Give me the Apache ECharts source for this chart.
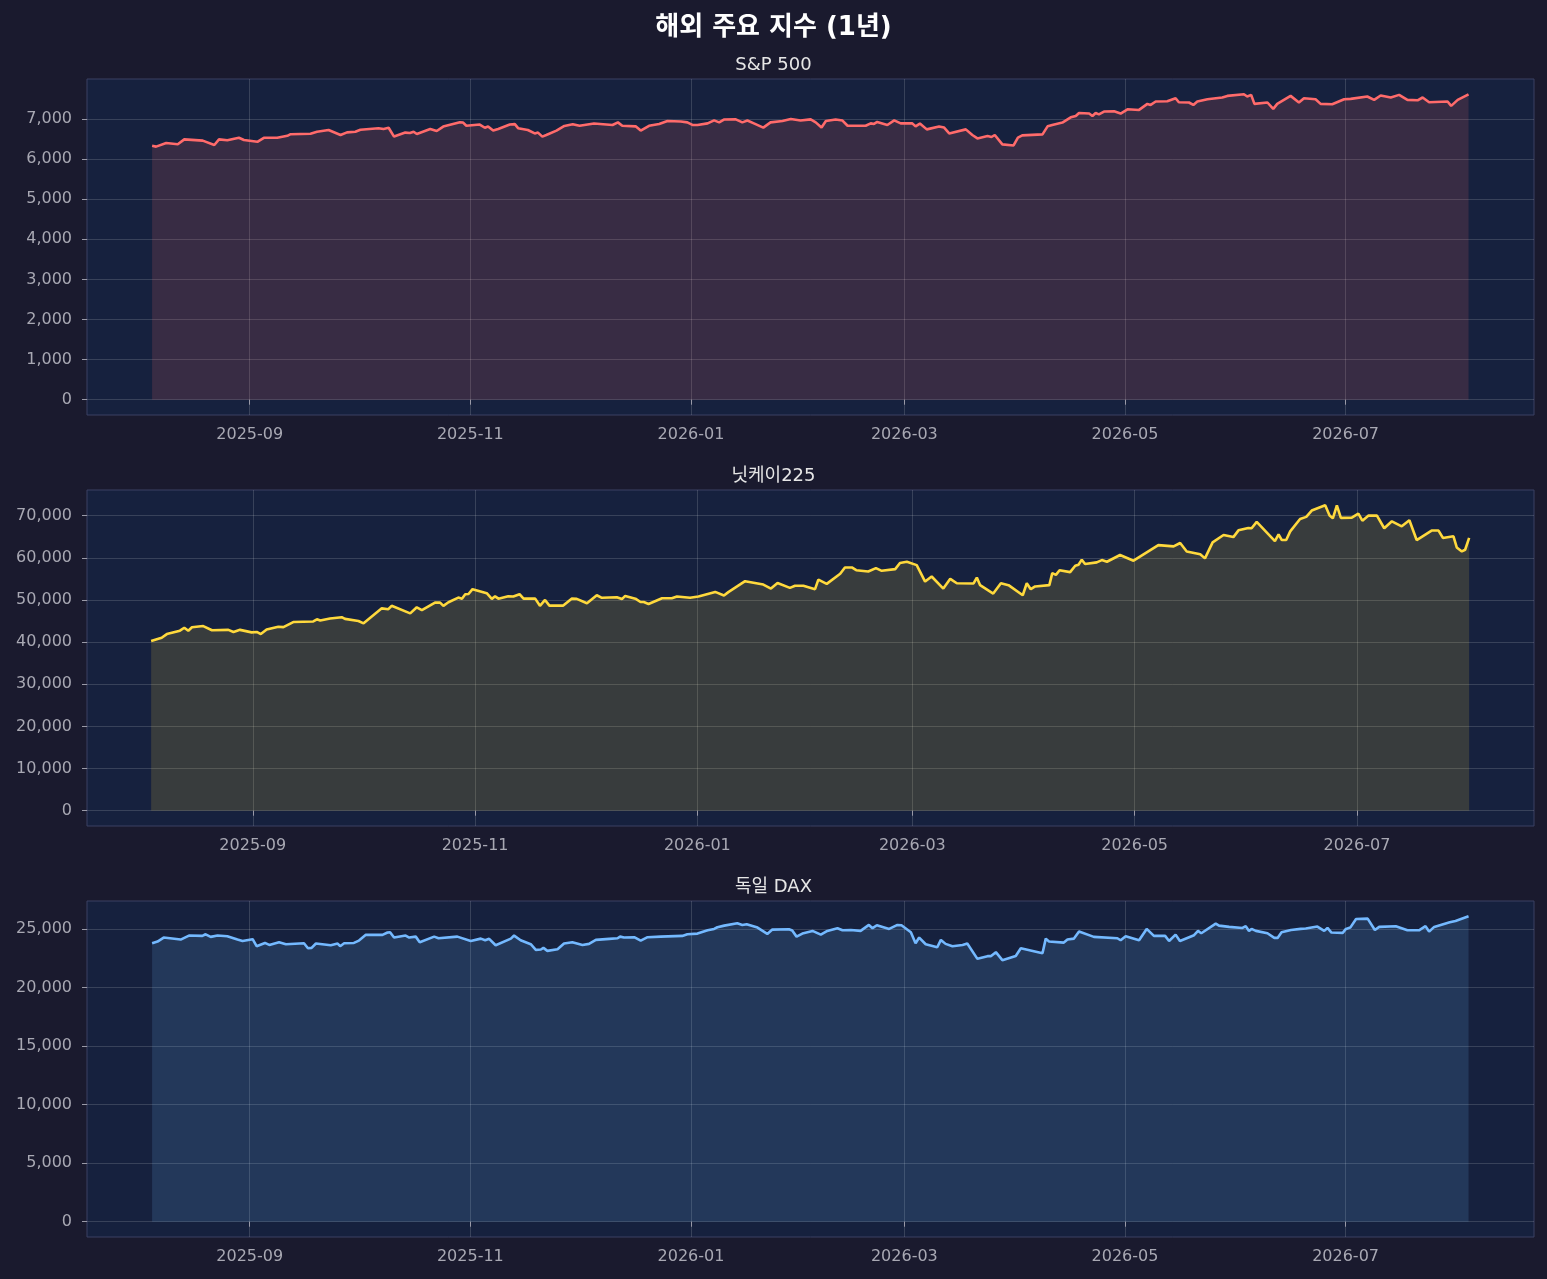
<!DOCTYPE html>
<html>
<head>
<meta charset="utf-8">
<script src="https://cdn.jsdelivr.net/npm/echarts@6/dist/echarts.min.js"></script>
<style>
html,body{margin:0;padding:0;background:#1a1a2e;}
#chart{width:1547px;height:1279px;}
</style>
</head>
<body>
<div id="chart"></div>
<script>
// Day offsets are counted from 2025-08-05
const START_DATE = '2025-08-05';

const spDays = [0,1.1,3.9,7.1,8.9,14,17.2,18.5,20.8,24,25.4,29.1,30.9,34.6,37.4,38.3,43.8,45.6,48.8,52.1,53.9,56.2,57.6,62.6,64,65.4,65.8,66.9,70,71.3,72.3,73.2,76.9,78.7,80.5,85.1,86,86.9,90.6,92,92.9,94.3,95.7,98.9,100.3,101.2,103.9,105.8,106.7,107.9,109,111.8,114,116.3,118.2,122.2,127.3,128.8,130,133.7,135.1,137.4,140.2,142.5,146.2,148,149.4,150.8,153.6,155.4,156.8,158.1,161.4,163.2,164.6,166.4,169,171,174.3,176.6,179.3,182.1,183.5,185.1,186.3,189,190.9,192.3,197.3,198.7,199.6,200.5,203.3,205.2,207,210.2,211.1,212.3,214.2,217.6,219,220.4,225,226.8,228.2,231,232.1,233,235.1,238.2,239.4,240.6,246.2,247.6,248.9,251.7,254,255.4,256.3,259.1,260,260.9,261.8,263.2,266,267.8,269.7,272.9,275.2,276.1,277.5,280.7,283,283.9,286.7,287.9,289,291.8,295.9,297.3,301.9,302.8,303.9,304.8,308.4,310,311.1,314.8,317.1,318.5,321.7,323.1,326.3,329.6,331.4,336,337.9,339.7,342.5,344.8,347.1,349.9,351.3,353.1,358.2,359.2,361,364];
const spValues = [6330,6310,6400,6370,6490,6460,6350,6490,6470,6530,6475,6430,6530,6530,6580,6620,6630,6680,6725,6600,6665,6680,6730,6770,6750,6780,6740,6560,6660,6650,6680,6625,6750,6700,6810,6915,6910,6830,6860,6780,6810,6710,6750,6860,6870,6770,6725,6640,6660,6560,6600,6710,6825,6870,6830,6885,6850,6915,6830,6815,6710,6830,6875,6950,6935,6915,6850,6850,6890,6965,6915,6985,6990,6915,6960,6890,6785,6915,6950,7000,6960,6990,6915,6785,6950,6985,6960,6830,6830,6890,6875,6925,6850,6965,6890,6890,6815,6885,6740,6810,6785,6640,6740,6600,6515,6575,6550,6600,6365,6340,6535,6590,6615,6815,6850,6910,7040,7075,7150,7135,7075,7150,7115,7185,7190,7135,7240,7225,7375,7350,7435,7440,7515,7415,7410,7350,7435,7490,7535,7575,7615,7560,7600,7375,7410,7250,7375,7575,7410,7515,7490,7375,7365,7490,7500,7560,7475,7585,7535,7600,7475,7465,7535,7415,7435,7325,7475,7615];

const nkDays = [-0.9,2,3.4,7,8.2,9.3,10.3,13.4,15.8,20.3,21.7,23.5,26.7,28.1,29.2,30.8,34,35.4,38.1,43.6,44.6,45.5,48.2,51.4,52.3,56,57.4,62.4,64.2,65.1,70.2,72,73.4,77,78.4,79.3,80.7,83.4,84.4,85.3,86.2,87.3,91.2,92.6,93.5,94.4,97.1,98.5,100.2,101.3,104.5,105.8,107.2,108.4,112.2,114.5,115.9,118.7,121.4,122.8,126.9,128.3,129.2,132,133.4,134.3,135.6,139.3,142,143.4,147,149.3,153.9,156.3,157.5,162.1,167.1,169.2,171,174.4,175.8,178.1,181.3,182.2,184.5,188.2,189.5,191.4,192.6,195.9,198,199.6,203.3,204.6,206.5,209.2,211.5,213.3,216.5,218.4,220.2,224.8,225.7,226.6,230.2,232.3,234.4,238.3,239.4,240.5,241.7,245.6,246.4,247.4,248.4,251.3,252.7,253.6,254.5,255.4,258.6,260,261.4,265,268.7,275.5,279.7,281.5,283.3,287,288.3,290.4,293.4,296.1,297.5,300.2,301.1,302.5,307.5,308.5,309.4,310.6,311.7,314.4,316.1,317.6,321.3,322.5,323.4,324.5,325.6,328.6,330.4,331.5,333.2,335.5,337.5,339.6,342.3,344.4,346.4,350.5,352.4,353.6,356.5,357.4,358.8,359.7,360.8];
const nkValues = [40240,41030,41900,42700,43400,42700,43500,43800,42800,42900,42400,42900,42300,42400,41900,43000,43650,43550,44750,44900,45400,45100,45600,45900,45500,45000,44450,48000,47800,48600,46800,48250,47600,49350,49350,48600,49450,50550,50300,51350,51400,52550,51600,50250,50850,50300,50850,50800,51350,50300,50300,48600,50000,48650,48650,50300,50250,49200,51100,50500,50650,50200,50950,50300,49500,49500,49050,50400,50400,50800,50500,50800,51900,51050,51850,54450,53650,52700,54000,52850,53350,53350,52550,54800,53800,56200,57700,57700,57050,56750,57550,56900,57300,58750,59050,58250,54350,55550,52700,55000,53950,53900,55300,53500,51500,53950,53500,51100,53950,52550,53200,53500,56350,55950,57050,56600,58100,58350,59550,58500,58900,59450,59050,60650,59300,63000,62700,63500,61500,60850,59850,63650,65400,64900,66500,67050,67000,68500,63950,65550,64200,64200,66250,69200,69700,71200,72450,70000,69350,72450,69450,69500,70450,68800,70000,70000,67000,68650,67450,68900,64200,66450,66450,64700,65100,62450,61500,61900,64700];

const daxDays = [0,1.5,3.2,7.9,10.2,13.9,14.8,16.2,18.1,20.8,23.6,25,27.8,28.9,31.2,32.4,35.1,37,42,43.1,44.1,45.3,49.4,51.3,52,53.1,55.8,57.2,59.1,63.7,65.1,65.8,66.9,70.1,71.1,72.9,74,78,79.2,84.4,88.1,90.9,92.1,93.2,95,99.2,100.1,101.9,104.7,106.1,107.5,108.2,109.3,112.1,113.9,116.2,119,120.8,122.7,126.4,128.7,129.4,130.5,133.3,135.1,137,140.6,146.6,148,150.8,153.6,155.4,156.3,158.2,161.8,163.2,164.4,167.4,170.1,171.5,176.1,177,178.2,179.8,182.6,184.9,186.7,189.5,190.9,193.2,195.9,198.2,199.2,200.4,203.8,206.1,207.2,209.8,211.1,212.1,213.9,217.1,218.1,219.4,221.3,224.1,225.4,228.2,231,231.9,233.3,235.1,238.8,240.2,246.2,247.1,248,252.1,253.1,254.9,256.3,260.4,266.9,267.8,269.2,272.9,275,277,280.1,281.2,283,284.2,288.1,289.2,290.1,294.1,295,297.8,301.5,302.4,303.3,304,305.2,308.4,310.3,311.2,312.3,314.9,317.6,319,322.2,324.1,325,326.1,329.2,330.1,331.3,332.9,336.1,338.1,339.3,343.9,347.1,350.3,352.1,353.1,354.5,358.8,360.4,364];
const daxValues = [23800,23950,24290,24120,24460,24430,24570,24350,24460,24400,24120,24000,24150,23550,23830,23660,23890,23720,23800,23380,23410,23780,23630,23780,23550,23800,23830,24030,24520,24520,24720,24740,24290,24460,24290,24370,23890,24370,24230,24370,24000,24200,24060,24180,23630,24200,24460,24060,23720,23240,23270,23410,23150,23290,23780,23890,23660,23750,24090,24180,24230,24370,24290,24320,24030,24320,24370,24430,24570,24630,24910,25030,25170,25310,25510,25370,25430,25140,24600,24970,25000,24890,24370,24630,24860,24540,24860,25090,24910,24940,24860,25370,25090,25340,25030,25370,25340,24740,23800,24290,23720,23460,24090,23750,23550,23660,23780,22470,22700,22700,23040,22360,22720,23380,22950,24200,23950,23860,24120,24200,24800,24350,24230,24060,24400,24060,25030,24430,24430,24000,24540,24000,24490,24860,24660,25480,25310,25200,25110,25260,24860,25030,24860,24660,24260,24260,24740,24940,25030,25060,25230,24860,25110,24720,24690,25030,25140,25880,25910,24940,25200,25260,24910,24910,25260,24800,25200,25600,25710,26110];

const panelTitles = ['S&P 500', '닛케이225', '독일 DAX'];
const xTickDates = ['2025-09-01','2025-11-01','2026-01-01','2026-03-01','2026-05-01','2026-07-01'];
const spYTicks = [0,1000,2000,3000,4000,5000,6000,7000];
const nkYTicks = [0,10000,20000,30000,40000,50000,60000,70000];
const daxYTicks = [0,5000,10000,15000,20000,25000];

const DAY = 86400000;
const t0 = Date.parse(START_DATE);
const toTs = d => t0 + d * DAY;
const tickTs = xTickDates.map(s => Date.parse(s));

const panels = [
  {title: panelTitles[0], days: spDays, vals: spValues, yTicks: spYTicks, color: '#ff6b6b', fill: 'rgba(255,107,107,0.15)', xr: [-18, 382.1], yr: [-381, 7996]},
  {title: panelTitles[1], days: nkDays, vals: nkValues, yTicks: nkYTicks, color: '#ffd93d', fill: 'rgba(255,217,61,0.15)', xr: [-18.5, 378.6], yr: [-3622, 76072]},
  {title: panelTitles[2], days: daxDays, vals: daxValues, yTicks: daxYTicks, color: '#74b9ff', fill: 'rgba(116,185,255,0.15)', xr: [-18, 382.1], yr: [-1305, 27415]}
];

const FONT = '"DejaVu Sans", "Noto Sans CJK KR", sans-serif';
const gridTops = [79, 490, 901];
const GRID_H = 336;

const fmtMonth = v => { const d = new Date(v); return d.getUTCFullYear() + '-' + String(d.getUTCMonth() + 1).padStart(2, '0'); };
const fmtNum = v => Number(v).toLocaleString('en-US');

const option = {
  backgroundColor: '#1a1a2e',
  animation: false,
  textStyle: {fontFamily: FONT},
  title: [{text: '해외 주요 지수 (1년)', left: 'center', top: 10, textStyle: {color: '#ffffff', fontSize: 26, fontWeight: 'bold', fontFamily: FONT}}]
    .concat(panels.map((p, i) => ({text: p.title, left: 'center', top: gridTops[i] - 28, textStyle: {color: '#e6e6e6', fontSize: 18, fontWeight: 'normal', fontFamily: FONT}}))),
  grid: panels.map((p, i) => ({left: 87, width: 1447, top: gridTops[i], height: GRID_H, show: true, backgroundColor: '#16213e', borderColor: '#3b4163', borderWidth: 1})),
  xAxis: panels.map((p, i) => ({
    type: 'value', gridIndex: i, min: toTs(p.xr[0]), max: toTs(p.xr[1]),
    axisLine: {show: false},
    axisTick: {show: true, length: 5, lineStyle: {color: '#9a9aa8'}, customValues: tickTs},
    axisLabel: {color: '#a8a8b3', fontSize: 16, margin: 12, fontFamily: FONT, customValues: tickTs, formatter: fmtMonth},
    splitLine: {show: true, lineStyle: {color: 'rgba(255,255,255,0.15)', width: 1}}
  })),
  yAxis: panels.map((p, i) => ({
    type: 'value', gridIndex: i, min: p.yr[0], max: p.yr[1],
    axisLine: {show: false},
    axisTick: {show: true, length: 5, lineStyle: {color: '#9a9aa8'}, customValues: p.yTicks},
    axisLabel: {color: '#a8a8b3', fontSize: 16, margin: 15, fontFamily: FONT, customValues: p.yTicks, formatter: fmtNum},
    splitLine: {show: true, lineStyle: {color: 'rgba(255,255,255,0.15)', width: 1}}
  })),
  series: panels.map((p, i) => ({
    type: 'line', xAxisIndex: i, yAxisIndex: i, symbol: 'none', showSymbol: false,
    data: p.days.map((d, k) => [toTs(d), p.vals[k]]),
    lineStyle: {color: p.color, width: 2.6},
    itemStyle: {color: p.color},
    areaStyle: {color: p.fill, opacity: 1, origin: 'auto'}
  }))
};

const chart = echarts.init(document.getElementById('chart'), null, {renderer: 'canvas'});
chart.setOption(option);
</script>
</body>
</html>
